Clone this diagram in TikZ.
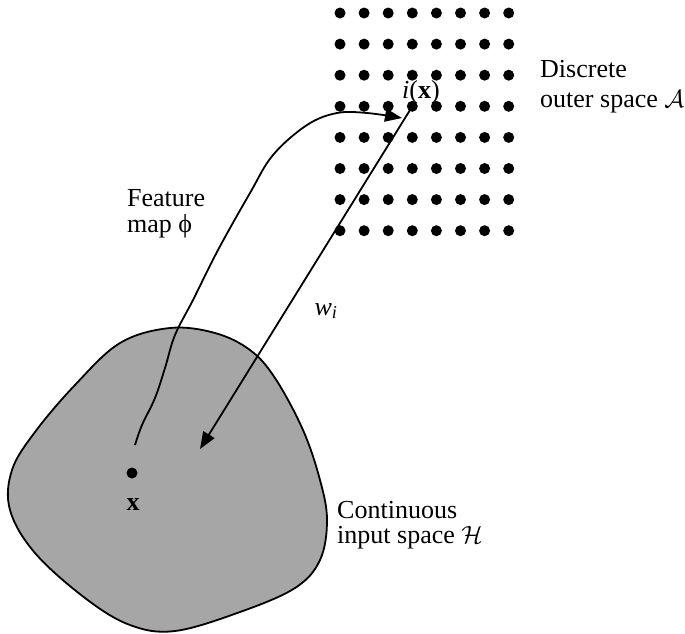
\documentclass[tikz,border=0pt]{standalone}
\usepackage{fontspec}
\setmainfont{Liberation Serif}
\usetikzlibrary{arrows.meta}
\definecolor{blobgray}{RGB}{166,166,166}
\tikzset{
  lbl/.style={inner sep=0pt, anchor=base west, align=left, font=\fontsize{26}{26}\selectfont},
  griddot/.style={circle, fill=black, inner sep=0pt, minimum size=11pt},
  conn/.style={line width=1.8pt, -{Triangle[length=17pt,width=13pt]}},
}
\begin{document}
\begin{tikzpicture}[x=1pt,y=-1pt]
\useasboundingbox (0,0) rectangle (685,633);
% continuous input space
\draw[line width=1.8pt, fill=blobgray] plot[smooth cycle, tension=0.6] coordinates {
  (120,343) (170,328) (215,333) (250,350) (275,378) (303,430) (320,480)
  (327,520) (320,560) (295,588) (240,612) (175,631) (130,625) (85,598)
  (35,553) (10,510) (12,470) (35,432) (75,385)};
% grid of output neurons
\foreach \c in {0,...,7}{
  \foreach \r in {0,...,7}{
    \node[griddot] (g-\c-\r) at ({340+24.1*\c},{13+31.1*\r}) {};
  }
}
% input point
\node[griddot] (xdot) at (132,473) {};
\node[lbl, anchor=base, font=\fontsize{26}{26}\selectfont\bfseries] (xlbl) at (133,510) {x};
% labels
\node[lbl, anchor=base] (ilbl) at (421,98) {\textit{i}(\textbf{x})};
\node[lbl, anchor=base] (wlbl) at (326,315) {\textit{w}\textsubscript{\textit{i}}};
\node[lbl] (feat) at (127,232) {Feature\\map ϕ};
\node[lbl, font=\fontsize{26}{30}\selectfont] (disc) at (540,107) {Discrete\\outer space $\mathcal{A}$};
\node[lbl, font=\fontsize{26}{25}\selectfont] (cont) at (337,543) {Continuous\\input space $\mathcal{H}$};
% feature map
\coordinate (fstart) at (135,445);
\coordinate (ftip) at (402,118);
\draw[conn] plot[smooth, tension=0.6] coordinates {
  (fstart) (142,425) (155,398) (165,368) (175,335) (193,300) (218,250)
  (250,193) (273,155) (307,125) (337,113) (367,113) (ftip)};
% weight vector
\coordinate (wtip) at (200,449);
\draw[conn] (g-3-3.center) -- (wtip);
\end{tikzpicture}
\end{document}
